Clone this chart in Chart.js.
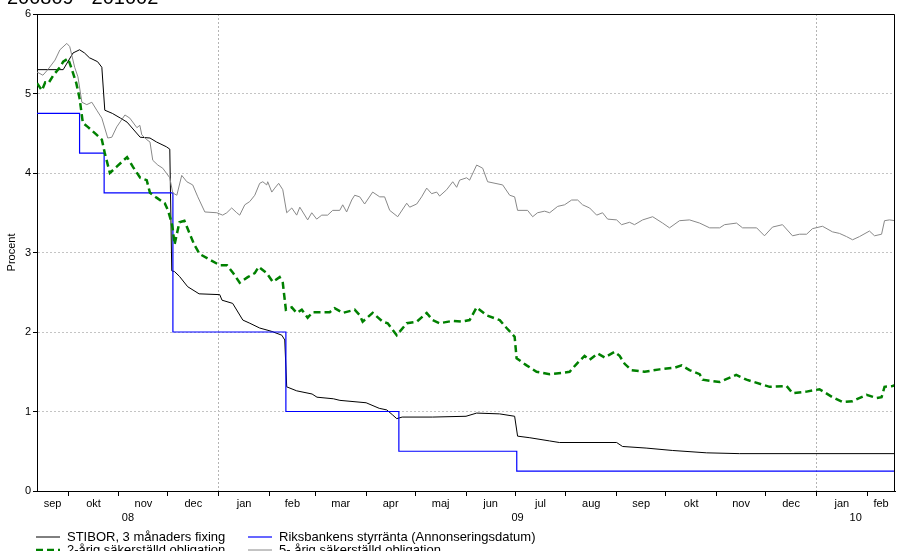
<!DOCTYPE html>
<html><head><meta charset="utf-8">
<script src="https://cdn.jsdelivr.net/npm/chart.js@4.4.0/dist/chart.umd.min.js"></script>
<style>
html,body{margin:0;padding:0;background:#fff;overflow:hidden;}
#wrap{position:relative;width:897px;height:551px;font-family:"Liberation Sans",Arial,sans-serif;color:#000;}
#title{position:absolute;left:7px;top:-13px;font-size:20px;line-height:20px;white-space:nowrap;}
.leg{position:absolute;display:flex;align-items:center;font-size:13px;white-space:nowrap;height:13px;line-height:13px;}
.leg svg{margin-right:7px;flex:none;}
canvas{position:absolute;left:0;top:0;}
</style></head><body>
<div id="wrap"><canvas id="c" width="897" height="551"></canvas><div id="title"></div></div>
<script>
// ---- data (x = days since 2009-01-01) ----
const titleText = "200809 - 201002";
const yAxisTitle = "Procent";
const monthNames = ['jan','feb','mar','apr','maj','jun','jul','aug','sep','okt','nov','dec'];
const yearLabels = ['08','09','10'];
const yTicks = [0,1,2,3,4,5,6];
const seriesLabels = ['STIBOR, 3 månaders fixing','Riksbankens styrränta (Annonseringsdatum)','2-årig säkerställd obligation','5- årig säkerställd obligation'];

const stiborDays = [-111,-95,-89,-85,-82,-79,-74,-71.4,-69.6,-65,-60,-56,-48,-42,-38,-32,-29.9,-28.7,-27,-24,-19,-12,0.6,2,8.5,14.7,19,25,32,38.5,40.3,41.5,47.6,57,60,70,74,90,98,102.6,106,108.7,112,130.6,151,157.5,171.5,180.7,182.5,190,202,208,243,246.6,261,277,298,318,413];
const stiborValues = [5.30,5.30,5.51,5.55,5.51,5.45,5.40,5.33,4.79,4.75,4.69,4.64,4.45,4.44,4.39,4.33,4.30,2.77,2.76,2.70,2.57,2.48,2.47,2.40,2.36,2.15,2.11,2.05,2.01,1.96,1.90,1.31,1.26,1.22,1.18,1.16,1.14,1.11,1.04,1.02,0.96,0.91,0.93,0.93,0.94,0.98,0.97,0.94,0.69,0.67,0.63,0.61,0.61,0.56,0.54,0.51,0.48,0.47,0.47];

const repoDays = [-111,-85,-70,-28,41,110,182,413];
const repoValues = [4.75,4.25,3.75,2.00,1.00,0.50,0.25,0.25];

const bond2Days = [-111,-108,-106,-104,-101,-97,-95,-92,-90,-87,-85,-83,-80,-74.5,-71.4,-69.6,-66.5,-62.3,-56,-52.5,-48,-44,-42,-38,-33,-31,-28.7,-28,-27,-24,-21,-18,-15,-11.6,-5.5,0.6,5,8.5,12.8,17.7,22,24.4,29.3,33,37.2,39.1,41,44.6,47.6,50.7,54.3,57.4,67.8,70.8,75.7,83,86.1,87.9,94,100.1,103.2,108.7,114.8,120.9,127,130.6,134.9,142.9,148.4,153.2,157.5,163.6,171.6,175.8,180.7,181.9,188,194.1,202.1,211,214.3,218.6,223.4,226.5,231.4,235.7,241.8,244.8,247.9,252.1,260.1,269.2,278.4,282.7,287.5,293.7,295.5,305.9,316,322.3,336.4,346.8,350.4,359,366.9,374.8,381,387.1,395.6,401.7,404.8,406.6,411.5,413];
const bond2Values = [5.13,5.04,5.14,5.13,5.23,5.33,5.40,5.44,5.32,5.13,4.94,4.63,4.58,4.48,4.42,4.25,4.00,4.08,4.20,4.08,3.94,3.91,3.75,3.69,3.62,3.53,3.37,3.28,3.10,3.38,3.40,3.25,3.10,2.98,2.91,2.84,2.84,2.75,2.62,2.69,2.74,2.82,2.74,2.63,2.69,2.62,2.28,2.31,2.24,2.28,2.18,2.25,2.25,2.30,2.24,2.28,2.21,2.13,2.24,2.13,2.11,1.96,2.11,2.13,2.24,2.15,2.11,2.14,2.13,2.15,2.31,2.21,2.15,2.05,1.94,1.67,1.58,1.50,1.47,1.49,1.50,1.60,1.70,1.65,1.73,1.68,1.75,1.70,1.60,1.52,1.50,1.53,1.55,1.58,1.52,1.47,1.40,1.37,1.46,1.40,1.31,1.32,1.23,1.25,1.28,1.18,1.12,1.13,1.21,1.17,1.18,1.31,1.32,1.33];

const bond5Days = [-111,-107.4,-104.4,-100,-97,-92.8,-91,-88,-86,-83.6,-80.6,-77.5,-74.5,-71.4,-67.8,-65.3,-62.3,-57.3,-54.3,-50,-48.2,-47,-44,-42,-40.3,-37.2,-34.2,-29.9,-28.1,-25.6,-22.6,-19.5,-15.9,-12.8,-8.5,-1.2,2.4,4.9,7.9,11,12.8,15.9,18.9,22,25,26.9,29.3,29.9,32.4,34.2,36.6,39.1,41.5,44.6,47.6,49.5,54.3,56.8,59.8,62.9,66.5,69.6,73.9,75.7,78.1,81.2,83,86.1,89.1,94,98.3,101.3,104.4,109.3,114.8,116.6,120.9,123.9,127,130,133.1,134.9,139.2,142.9,145.3,147.1,151.4,153.2,157.5,161.2,164.2,173.4,177.7,180.7,182.5,188.6,191.7,194.7,199,202.1,207,211.2,215.5,219.2,222.2,226.5,230.8,234.4,237.5,243,246,250.9,253.9,258.9,265,271.1,275.3,281.4,287.5,293.7,299.8,305.9,308.9,316.2,319.9,328.5,333.3,338.2,344.3,350.4,354.7,359,362.6,368.7,374.8,379.1,383.4,387.1,391.3,397.4,400.5,404.8,406.6,409.6,413];
const bond5Values = [5.27,5.23,5.30,5.42,5.55,5.63,5.59,5.33,5.21,4.89,4.86,4.89,4.79,4.69,4.44,4.45,4.58,4.73,4.69,4.57,4.60,4.48,4.42,4.39,4.16,4.10,4.06,3.94,3.75,3.72,3.97,3.89,3.85,3.70,3.51,3.50,3.47,3.50,3.56,3.50,3.47,3.60,3.64,3.72,3.87,3.89,3.85,3.89,3.76,3.81,3.87,3.79,3.50,3.56,3.47,3.57,3.41,3.50,3.42,3.47,3.47,3.53,3.53,3.60,3.51,3.66,3.72,3.70,3.61,3.76,3.70,3.70,3.53,3.45,3.62,3.57,3.61,3.70,3.81,3.74,3.76,3.71,3.79,3.89,3.82,3.91,3.94,3.91,4.10,4.06,3.89,3.85,3.72,3.70,3.53,3.53,3.45,3.50,3.52,3.50,3.58,3.60,3.66,3.66,3.60,3.56,3.47,3.50,3.42,3.41,3.35,3.38,3.35,3.41,3.45,3.37,3.31,3.40,3.41,3.37,3.31,3.31,3.35,3.37,3.31,3.31,3.21,3.32,3.35,3.21,3.23,3.23,3.30,3.33,3.26,3.24,3.20,3.16,3.20,3.27,3.21,3.23,3.40,3.41,3.40];

// ---- helpers ----
const DAY = 86400000;
const dayOf = (y, m, d) => (Date.UTC(y, m - 1, d) - Date.UTC(2009, 0, 1)) / DAY;
const xMin = dayOf(2008, 9, 12), xMax = dayOf(2010, 2, 18);
const pts = (xs, ys) => xs.map((x, i) => ({x, y: ys[i]}));

// month boundaries, month label centres, year label centres
const monthTicks = [];
const labelMap = new Map();
for (let y = 2008, m = 9; y < 2010 || m <= 2; ) {
  const start = Math.max(dayOf(y, m, 1), xMin);
  const ny = m === 12 ? y + 1 : y, nm = m === 12 ? 1 : m + 1;
  const endRaw = dayOf(ny, nm, 1);
  const end = Math.min(endRaw, xMax);
  if (endRaw < xMax) monthTicks.push(endRaw);
  labelMap.set((start + end) / 2, monthNames[m - 1]);
  y = ny; m = nm;
}
[2008, 2009, 2010].forEach((yr, i) => {
  const s = Math.max(dayOf(yr, 1, 1), xMin), e = Math.min(dayOf(yr + 1, 1, 1), xMax);
  labelMap.set((s + e) / 2, ['', yearLabels[i]]);
});
const yearBoundaries = [dayOf(2009,1,1), dayOf(2010,1,1)];

document.getElementById('title').textContent = titleText;

const FONT = '"Liberation Sans", Arial, sans-serif';
Chart.defaults.font.family = FONT;
Chart.defaults.color = '#000';

const styles = [
  {borderColor:'#000000', borderWidth:1, borderDash:[]},
  {borderColor:'#0000ff', borderWidth:1.2, borderDash:[], stepped:true},
  {borderColor:'#008000', borderWidth:2.5, borderDash:[7,4]},
  {borderColor:'#888888', borderWidth:1, borderDash:[]}
];
const seriesData = [pts(stiborDays, stiborValues), pts(repoDays, repoValues), pts(bond2Days, bond2Values), pts(bond5Days, bond5Values)];

const framePlugin = {
  id: 'frame',
  afterDraw(chart) {
    const {ctx, chartArea: a} = chart;
    ctx.save();
    ctx.strokeStyle = '#000'; ctx.lineWidth = 1;
    ctx.beginPath();
    ctx.moveTo(Math.round(a.left) + 0.5, Math.round(a.top) + 0.5);
    ctx.lineTo(Math.round(a.right) - 0.5, Math.round(a.top) + 0.5);
    ctx.lineTo(Math.round(a.right) - 0.5, Math.round(a.bottom) + 0.5);
    ctx.stroke();
    ctx.restore();
  }
};

new Chart(document.getElementById('c'), {
  type: 'line',
  data: {
    datasets: seriesLabels.map((label, i) => Object.assign({
      label, data: seriesData[i], pointRadius: 0, tension: 0, fill: false
    }, styles[i])).reverse()
  },
  options: {
    responsive: false, animation: false, devicePixelRatio: 1,
    layout: {padding: {top: 14, right: 2, bottom: 20, left: 0}},
    plugins: {legend: {display: false}, tooltip: {enabled: false}},
    scales: {
      x: {
        type: 'linear', position: 'bottom', weight: 0, min: xMin, max: xMax,
        afterBuildTicks: s => { s.ticks = monthTicks.map(v => ({value: v})); },
        ticks: {display: false},
        grid: {
          color: c => (c.tick && yearBoundaries.includes(c.tick.value)) ? '#b4b4b4' : 'rgba(0,0,0,0)',
          tickColor: '#000', tickLength: 5, lineWidth: 1
        },
        border: {color: '#000', dash: [2, 2]},
        afterFit: s => { s.height = 6; }
      },
      xl: {
        type: 'linear', position: 'bottom', weight: 1, min: xMin, max: xMax,
        afterBuildTicks: s => { s.ticks = [...labelMap.keys()].sort((a,b)=>a-b).map(v => ({value: v})); },
        ticks: {autoSkip: false, maxRotation: 0, minRotation: 0, padding: 0, color: '#000',
          font: {size: 11, lineHeight: 1.3}, callback: v => labelMap.get(v)},
        grid: {display: false, drawTicks: false},
        border: {display: false},
        afterFit: s => { s.height = 34; }
      },
      y: {
        min: 0, max: 6,
        afterBuildTicks: s => { s.ticks = yTicks.map(v => ({value: v})); },
        ticks: {color: '#000', font: {size: 11}, padding: 2},
        grid: {color: '#c4c4c4', tickColor: '#000', tickLength: 4, lineWidth: 1},
        border: {color: '#000', dash: [2, 2]},
        title: {display: true, text: yAxisTitle, color: '#000', font: {size: 11}, padding: {top: 5, bottom: 0}},
        afterFit: s => { s.width = 37; }
      }
    }
  },
  plugins: [framePlugin]
});

// ---- legend (two columns, real text) ----
const wrap = document.getElementById('wrap');
const legendPos = [[36, 530], [248, 530], [36, 543], [248, 543]];
seriesLabels.forEach((label, i) => {
  const st = styles[i];
  const d = document.createElement('div');
  d.className = 'leg';
  d.style.left = legendPos[i][0] + 'px';
  d.style.top = legendPos[i][1] + 'px';
  const ns = 'http://www.w3.org/2000/svg';
  const svg = document.createElementNS(ns, 'svg');
  svg.setAttribute('width', '24'); svg.setAttribute('height', '8');
  const ln = document.createElementNS(ns, 'line');
  ln.setAttribute('x1', '0'); ln.setAttribute('x2', '24');
  ln.setAttribute('y1', '4'); ln.setAttribute('y2', '4');
  ln.setAttribute('stroke', st.borderColor);
  ln.setAttribute('stroke-width', st.borderWidth);
  if (st.borderDash.length) ln.setAttribute('stroke-dasharray', st.borderDash.join(','));
  svg.appendChild(ln);
  const sp = document.createElement('span');
  sp.textContent = label;
  d.appendChild(svg); d.appendChild(sp);
  wrap.appendChild(d);
});
</script>
</body></html>
